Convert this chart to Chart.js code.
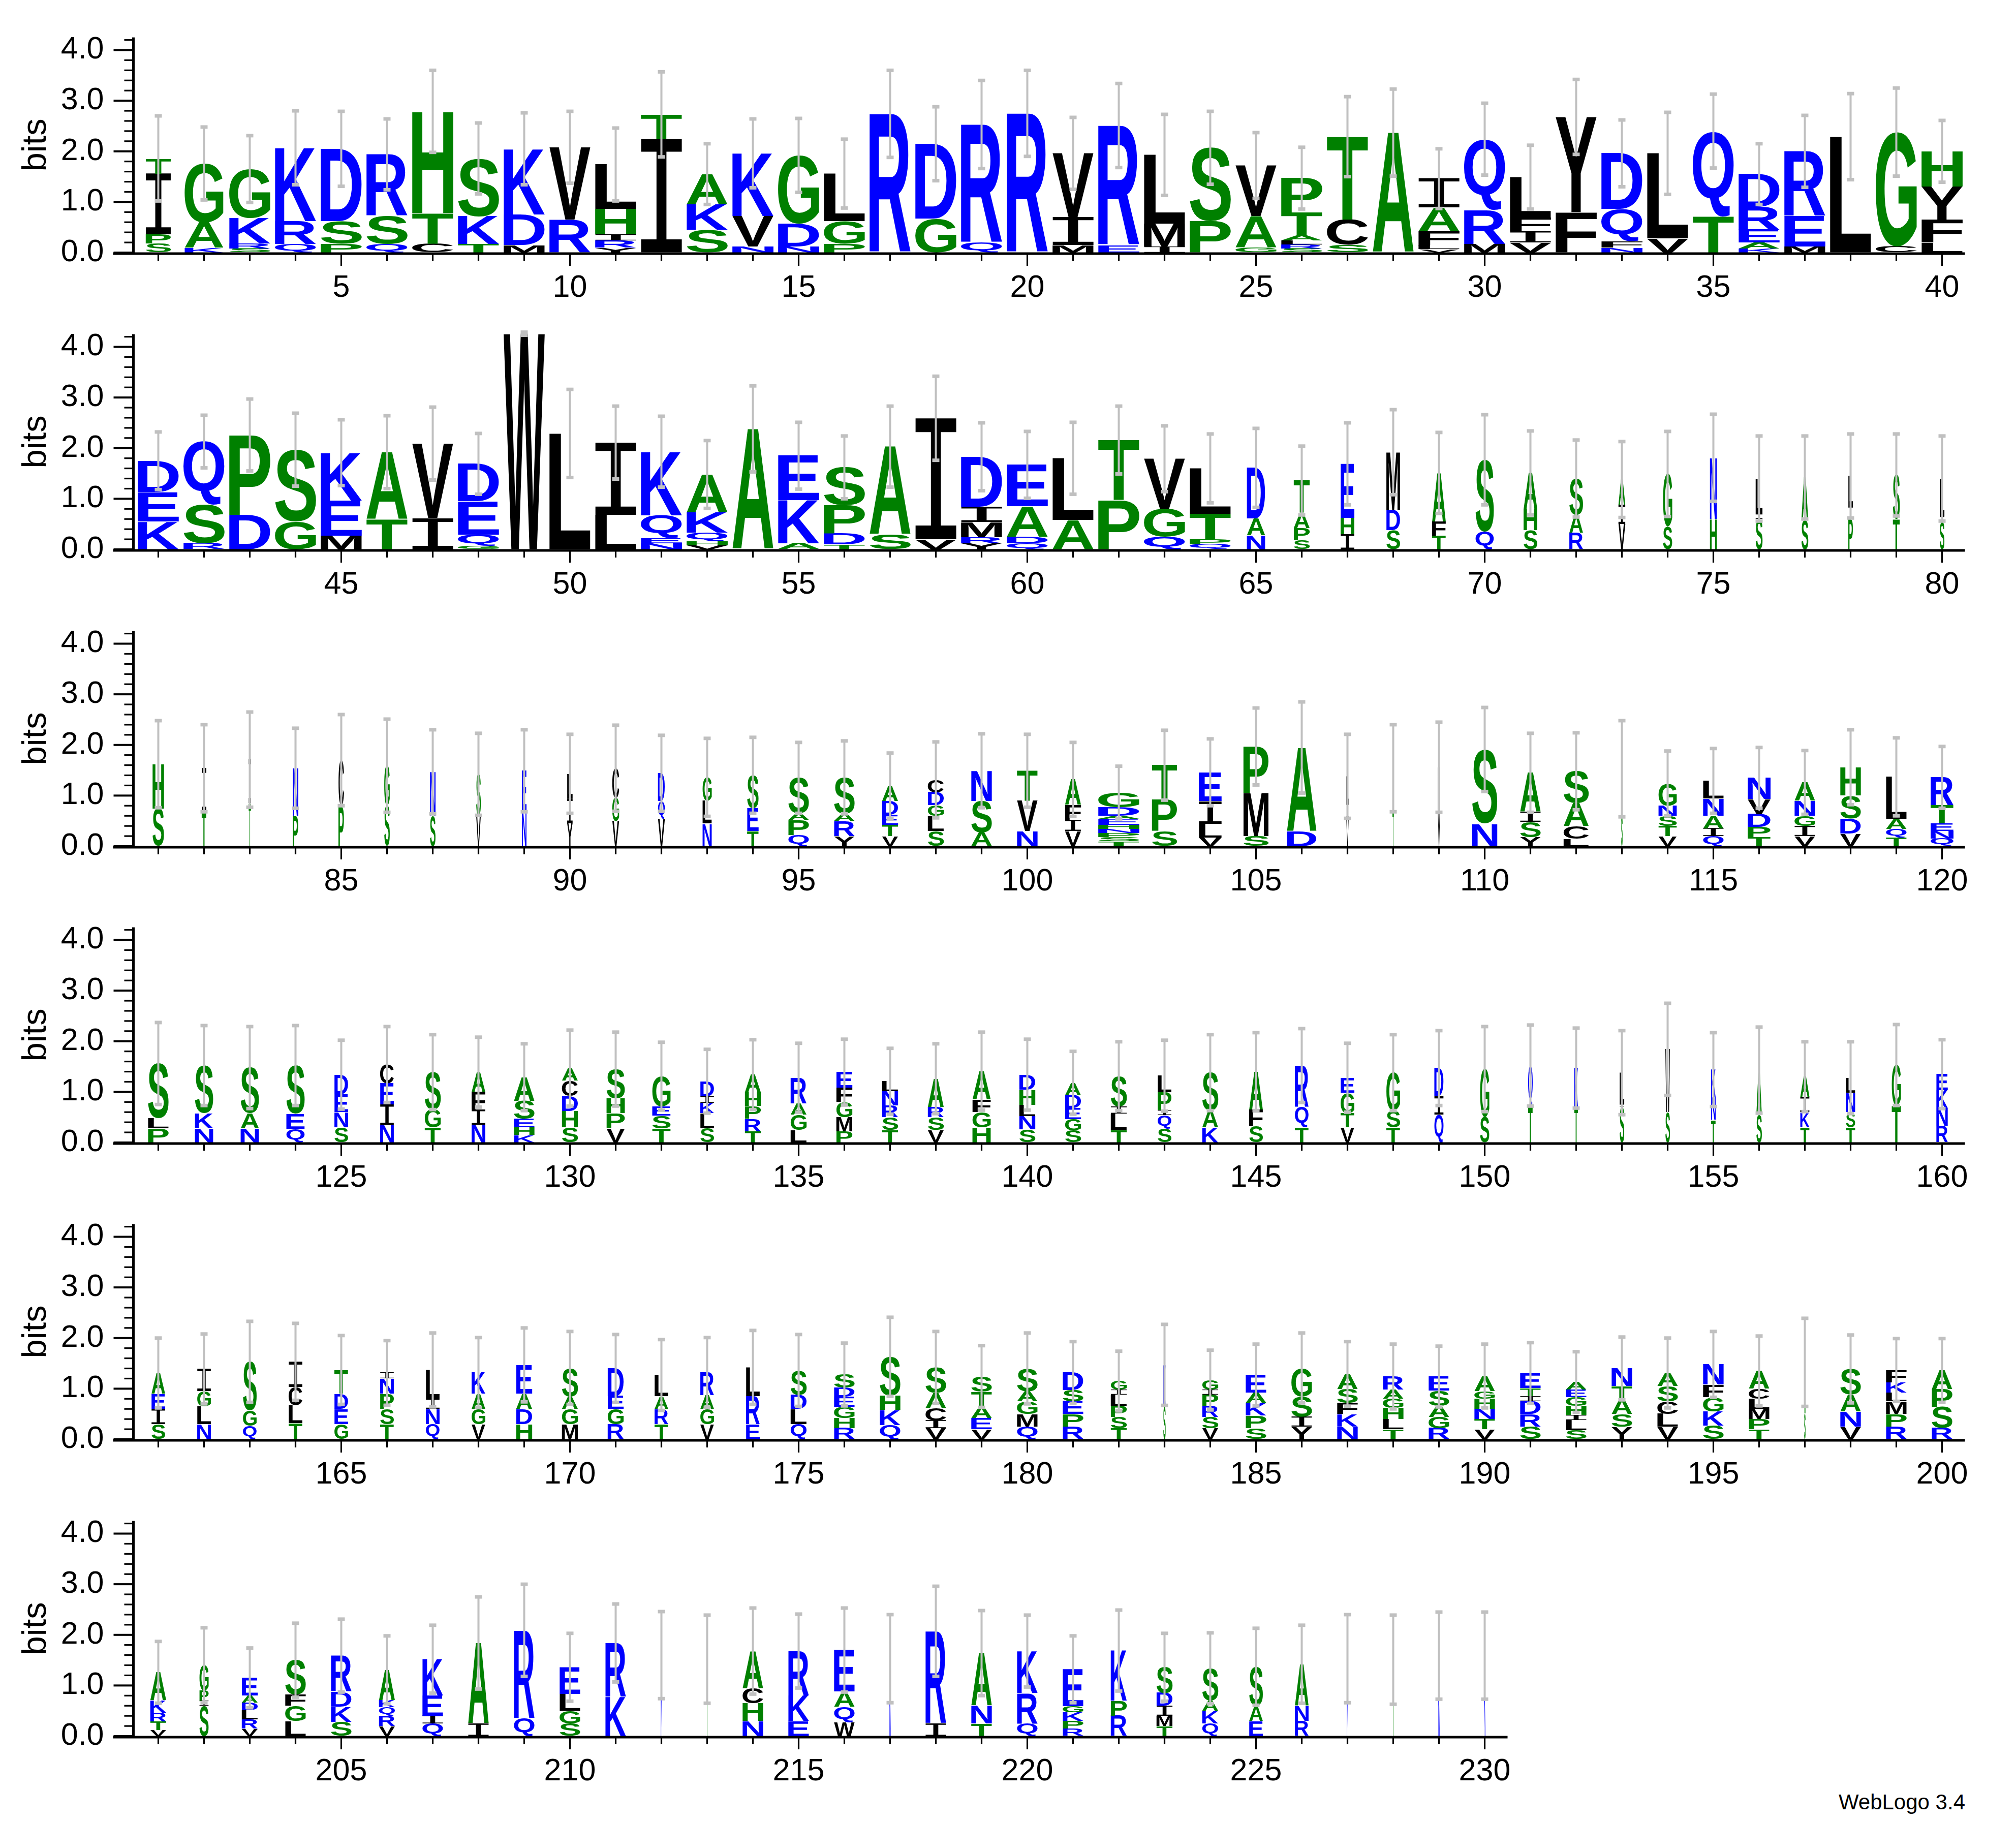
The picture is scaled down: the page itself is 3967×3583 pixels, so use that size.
<!DOCTYPE html>
<html><head><meta charset="utf-8">
<script src="https://cdn.jsdelivr.net/npm/chart.js@4"></script>
<style>
html,body{margin:0;padding:0;background:#fff;width:3967px;height:3583px;overflow:hidden;position:relative}
canvas{position:absolute;left:0}
#wl{position:absolute;right:100px;top:3522px;font:42px "Liberation Sans",Arial,sans-serif;color:#000}
</style></head><body>
<div id="wl">WebLogo 3.4</div>
<script>
// Letter stacks per position, bottom -> top, letter followed by height in bits
const stacks = [
"S.18 P.18 I1.2 T.3","K.1 A.5 G1.16","S.08 R.1 K.5 G.97","Q.17 R.45 K1.45","P.17 S.45 D1.43","Q.17 S.55 R1.22","C.18 T.6 H2.01","T.17 K.55 S1.14","M.15 D.6 K1.3","R.65 V1.43",
"Y.1 R.14 I.12 H.5 L.88","I2.25 T.48","S.45 K.5 A.6","N.12 V.6 K1.24","N.12 D.45 G1.35","P.17 G.45 L.94","R2.74","G.67 D1.48","Q.2 R2.33","R2.75",
"M.15 I.55 V1.26","E.15 R2.36","I.12 M.45 L1.36","P.62 S1.45","G.1 A.62 V1.0","S.08 R.08 L.08 A.1 T.45 P.68","S.15 C.5 T1.64","A2.37","V.07 L.07 F.28 A.47 I.57","M.17 R.67 Q1.4",
"V.2 I.22 F.27 L.8","F.8 Y1.88","N.1 F.12 Q.64 D1.1","V.28 L1.68","T.72 Q1.68","K.08 A.12 E.25 R.45 D.65","M.12 E.6 R1.28","L2.29","C.12 G2.26","L.2 F.45 Y.65 H.7",
"K.55 E.58 D.62","R.12 S.76 Q1.25","D.68 P1.58","G.55 S1.42","M.27 E.69 K.95","T.6 A1.32","I.62 V1.47","G.07 Q.22 E.66 D.74","W4.26","L2.29",
"L.68 I1.43","N.12 E.1 Q.45 K1.26","V.08 H.08 Q.17 K.4 A.75","A2.38","A.12 K.85 E.88","T.1 D.22 P.55 S.75","S.3 A1.73","V.2 I2.39","Y.12 R.12 M.3 I.3 D.99","Q.12 D.13 A.6 E.82",
"A.58 L1.22","P.97 T1.19","Q.25 G.55 V.99","Q.1 P.1 T.5 L.9","N.28 A.33 D1.0","S.18 P.24 A.3 T.64","I.3 H.32 E1.07","S.38 D.4 M1.14","T.27 F.28 A.96","Q.35 S1.42",
"S.38 H.42 A.71","R.33 A.35 S.72","V.5 I.38 A.5","S.45 G1.04","H.6 N1.21","S.6 I.1 L.7","S.57 A.85","P.6 I.25 L.6","T.6 S.87","S.55 I.1 L.75",
"S.74 H.88","T.68 I.86","T.85 I.86","P.6 N.94","P.8 C.9","S.8 G.79","S.6 N.87","V.6 S.82","N.7 E.79","Y.45 I.5 L.48",
"V.5 G.46 C.58","V.55 Q.34 D.55","N.45 L.45 G.46","T.3 E.45 S.65","Q.22 P.3 A.13 S.7","Y.2 R.3 A.14 S.72","V.2 T.22 E.2 D.27 A.3","S.3 L.3 G.21 D.25 C.25","A.27 S.62 N.6","N.3 V.6 T.59",
"V.3 I.22 F.3 A.5","T.1 S.08 P.08 N.08 H.08 E.12 A.06 D.17 G.29","S.3 P.62 T.68","V.17 L.27 I.45 E.57","S.2 M.85 P.92","D.3 A1.65","V.55 I.3 L.53","T.7 I.84","V.72 M.84","N.45 S1.46",
"Y.18 S.3 I.2 A.77","L.15 C.25 A.45 S.63","S.6 A.93","V.2 T.2 S.2 N.2 G.44","Q.2 I.15 A.25 N.34 L.35","T.18 P.2 D.25 V.3 N.42","V.2 I.2 G.2 N.3 A.36","V.25 D.3 S.45 H.56","T.17 Q.17 A.2 L.83","Q.15 N.15 E.15 T.36 R.55",
"P.28 L.2 S1.08","N.28 K.3 S.94","N.28 A.3 S.9","Q.27 E.3 S.95","S.3 N.3 E.35 D.39","N.35 I.4 E.42 C.37","T.3 G.35 S.74","N.35 I.3 F.35 A.39","K.15 H.15 E.17 S.35 A.47","S.3 H.32 D.3 C.3 A.25",
"V.28 P.3 H.3 S.57","T.28 S.25 E.18 G.6","S.28 L.3 K.2 I.13 D.3","T.22 R.25 P.25 H.27 A.35","L.25 G.3 A.22 R.51","P.22 M.28 G.3 F.28 E.31","T.25 S.25 R.23 N.28 L.2","V.25 S.25 R.2 A.56","H.3 G.3 F.25 A.56","S.26 N.26 L.22 H.3 D.3",
"S.24 G.22 E.22 D.25 A.25","T.25 L.32 I.14 S.6","S.27 Q.27 I.1 P.35 L.33","K.3 A.33 S.75","S.32 F.33 A.75","T.3 Q.4 R.82","V.3 T.28 G.4 E.3","T.3 S.33 G.75","Q.55 I.37 D.55","S.5 G.95",
"T.7 Q.82","T.7 K.77","S.7 I.05 L.63","S.6 W1.24","T.45 N.45 K.54","S.55 A.88","T.3 K.3 I.3 A.4","T.3 S.3 N.38 L.3","T.73 G.8","R.33 N.35 K.35 E.32",
"S.3 I.3 E.3 A.41","N.3 L.35 G.3 I.44","Q.27 G.3 S.96","T.32 L.35 C.36 I.5","G.3 E.3 D.3 T.47","T.3 S.3 P.3 N.3 I.11","Q.3 N.3 I.2 L.57","V.3 G.3 A.3 K.42","H.3 D.3 A.3 E.57","M.3 G.3 A.25 S.56",
"R.3 G.3 E.25 D.55","T.3 R.3 A.25 L.42","V.3 G.3 A.27 R.45","E.3 R.55 L.57","Q.3 L.3 D.28 S.48","R.22 H.2 G.22 E.2 D.18 S.26","Q.28 K.3 H.28 S.77","V.22 I.15 C.25 A.3 S.5","V.2 E.22 A.22 T.3 S.3","Q.25 M.25 G.25 A.2 S.45",
"R.25 P.25 E.25 S.22 D.35","T.22 S.22 P.22 L.22 I.1 G.17","S.65 K.82","V.22 S.22 R.22 P.22 I.1 G.19","S.22 P.25 K.25 A.2 E.35","Y.25 I.2 S.4 G.56","N.25 K.25 F.22 S.27 A.3","T.2 L.2 H.22 G.18 A.18 R.26","R.22 G.22 A.22 S.3 E.28","V.2 T.2 N.2 H.2 G.15 A.3",
"S.25 R.25 D.25 I.1 T.16 E.3","S.18 L.2 I.1 H.18 G.17 E.15 A.15","Y.25 S.25 A.3 T.25 N.35","V.25 L.25 C.25 S.3 A.26","S.27 K.28 G.28 F.25 N.4","T.2 P.2 M.2 L.2 C.2 A.35","S.5 A1.02","V.25 N.3 A.34 S.5","R.25 P.25 M.25 L.17 K.2 F.25","R.22 S.42 P.35 A.37",
"V.12 T.17 R.17 K.25 A.55","S.6 I.1 P.2 G.5","V.15 R.18 L.18 D.15 A.14 E.35","L.3 G.3 F.22 S.68","S.28 K.3 D.3 R.71","V.2 R.2 Q.17 K.14 A.6","Q.25 I.15 E.4 K.72","I.25 A1.59","Q.35 R1.74","S.25 G.25 L.33 E.53",
"K.78 R1.06","K1.6","T1.52","N.3 H.35 C.3 A.73","E.3 K.5 R.88","W.28 Q.3 A.3 E.82","K1.53","I.25 R1.82","T.25 N.35 A1.04","Q.25 R.6 K.83",
"R.15 P.15 K.17 G.12 E.73","R.4 P.3 K.99","T.2 M.2 I.2 D.25 S.51","Q.25 K.25 A.2 S.64","E.3 A.3 S.77","R.3 N.3 A.82","K1.53","T1.51","K1.59","K1.59"
];
// Upper end of the error bar per position (bits)
const errHi = [
2.70,2.48,2.31,2.80,2.79,2.64,3.60,2.56,2.76,2.79, 2.46,3.57,2.15,2.64,2.65,2.24,3.60,2.88,3.40,3.60,
2.67,3.34,2.73,2.79,2.37,2.08,3.08,3.23,2.05,2.95, 2.12,3.42,2.62,2.77,3.13,2.15,2.71,3.14,3.25,2.61,
2.32,2.65,2.97,2.69,2.56,2.64,2.81,2.29,4.29,3.16, 2.83,2.63,2.15,3.23,2.51,2.24,2.83,3.42,2.50,2.33,
2.51,2.83,2.44,2.28,2.39,2.04,2.50,2.76,2.31,2.66, 2.34,2.16,2.13,2.33,2.67,2.24,2.24,2.28,2.28,2.24,
2.48,2.40,2.65,2.33,2.60,2.51,2.30,2.23,2.30,2.21, 2.39,2.19,2.13,2.15,2.05,2.08,1.84,2.06,2.22,2.21,
2.05,1.58,2.29,2.12,2.73,2.85,2.21,2.40,2.45,2.74, 2.23,2.24,2.48,1.88,1.93,1.95,1.89,2.30,2.14,1.97,
2.37,2.31,2.29,2.31,2.02,2.29,2.13,2.08,1.95,2.22, 2.18,1.98,1.84,2.03,1.96,2.04,1.86,1.95,2.18,2.04,
1.80,1.99,2.02,2.13,2.17,2.25,1.96,2.13,2.21,2.29, 2.32,2.26,2.21,2.75,2.17,2.28,1.99,1.99,2.33,2.03,
2.00,2.08,2.33,2.29,2.05,1.95,2.10,2.01,2.20,2.13, 2.07,1.97,2.01,2.15,2.07,1.90,2.41,2.13,1.85,2.10,
1.93,1.74,2.27,1.76,1.88,2.10,1.93,1.88,1.84,1.88, 1.91,1.73,2.02,2.00,2.13,2.04,2.39,2.06,1.99,1.99,
1.87,2.14,1.74,2.23,2.31,1.98,2.19,2.75,3.00,2.03, 2.61,2.46,2.39,2.53,2.41,2.53,2.40,2.96,2.48,2.39,
1.98,2.49,2.03,2.04,2.13,2.19,2.40,2.39,2.45,2.45
];
// Column width (fraction of position spacing) as drawn
const widths = [
.55,.85,.9,.9,.9,.9,.9,.9,.9,.9, .9,.9,.9,.9,.9,.9,.9,.9,.9,.9,
.9,.9,.9,.9,.9,.9,.9,.9,.9,.9, .9,.9,.9,.9,.9,.9,.9,.9,.9,.9,
.9,.9,.9,.9,.9,.9,.9,.9,.9,.9, .9,.9,.9,.9,.9,.9,.9,.9,.9,.9,
.9,.9,.9,.9,.4,.35,.3,.3,.3,.4, .3,.3,.15,.2,.15,.15,.15,.1,.15,.1,
.25,.1,.05,.12,.12,.12,.12,.1,.1,.12, .15,.15,.2,.25,.45,.45,.35,.35,.45,.45,
.35,.9,.55,.5,.55,.65,.05,.03,.05,.55, .45,.55,.03,.4,.45,.5,.45,.45,.45,.5,
.45,.4,.4,.4,.3,.3,.35,.3,.45,.35, .4,.4,.3,.35,.35,.35,.35,.35,.4,.35,
.35,.35,.3,.35,.3,.3,.3,.3,.2,.2, .1,.08,.1,.1,.1,.12,.2,.2,.2,.25,
.3,.3,.3,.3,.3,.3,.3,.3,.35,.35, .35,.3,.3,.3,.35,.45,.45,.45,.45,.45,
.45,.35,.05,.35,.45,.45,.45,.45,.45,.45, .45,.45,.45,.45,.45,.45,.03,.45,.45,.45,
.35,.2,.35,.45,.45,.35,.45,.45,.45,.45, .45,.03,.03,.45,.45,.45,.03,.45,.45,.45,
.45,.35,.35,.35,.3,.3,.03,.03,.03,.03
];
const rows = [[1,40],[41,80],[81,120],[121,160],[161,200],[201,230]];
const xTickLabels = [5,10,15,20,25,30,35,40,45,50,55,60,65,70,75,80,85,90,95,100,105,110,115,120,125,130,135,140,145,150,155,160,165,170,175,180,185,190,195,200,205,210,215,220,225,230];
const yTickLabels = [0,1,2,3,4];

const GREEN='#008000', BLUE='#0000ff', BLACK='#000000';
const colorOf = l => ('GSTAPH'.includes(l)?GREEN:('KRDENQ'.includes(l)?BLUE:BLACK));
const parsed = stacks.map(s=>s.split(' ').map(t=>({l:t[0],h:parseFloat(t.slice(1))})));

const LEFT=266.5, STEP=90, ROWGAP=583.8, CH=583, TOPPAD=20;
const FONT='"Liberation Sans", Arial, sans-serif';
const fontFor = l => l==='I' ? '200px "DejaVu Sans Mono", monospace' : 'bold 200px '+FONT;

const glyphCache={};
function glyph(ctx,l){
  if(glyphCache[l]) return glyphCache[l];
  ctx.save(); ctx.font=fontFor(l);
  const m=ctx.measureText(l); ctx.restore();
  return glyphCache[l]={l:m.actualBoundingBoxLeft,r:m.actualBoundingBoxRight,a:m.actualBoundingBoxAscent,d:m.actualBoundingBoxDescent};
}

const logoPlugin={
  id:'logo',
  afterDatasetsDraw(chart){
    const ctx=chart.ctx, xs=chart.scales.x, ys=chart.scales.y;
    const unit=Math.abs(xs.getPixelForValue(2)-xs.getPixelForValue(1));
    chart.data.datasets.forEach((ds,di)=>{
      const meta=chart.getDatasetMeta(di);
      meta.data.forEach((el,i)=>{
        const L=ds.letters[i]; if(!L) return;
        const p=el.getProps(['x','y','base'],true);
        const top=Math.min(p.y,p.base), bot=Math.max(p.y,p.base);
        const h=bot-top; if(h<=0.5) return;
        const w=unit*ds.widthsRow[i];
        const g=glyph(ctx,L);
        const gw=g.l+g.r, gh=g.a+g.d;
        ctx.save();
        ctx.translate(p.x-w/2, top);
        ctx.scale(w/gw, h/gh);
        ctx.font=fontFor(L);
        ctx.fillStyle=colorOf(L);
        ctx.textBaseline='alphabetic'; ctx.textAlign='left';
        ctx.fillText(L, g.l, g.a);
        ctx.restore();
      });
    });
    const pos=chart.$positions;
    ctx.save();
    ctx.strokeStyle='#c0c0c0'; ctx.fillStyle='#c0c0c0'; ctx.lineWidth=4;
    pos.forEach(pp=>{
      const tot=parsed[pp-1].reduce((a,b)=>a+b.h,0);
      const hi=errHi[pp-1], lo=tot-(hi-tot);
      const x=xs.getPixelForValue(pp), y1=ys.getPixelForValue(hi), y0=ys.getPixelForValue(lo);
      ctx.beginPath(); ctx.moveTo(x,y0); ctx.lineTo(x,y1); ctx.stroke();
      ctx.fillRect(x-7,y1-3.5,14,7); ctx.fillRect(x-7,y0-3.5,14,7);
    });
    ctx.restore();
  },
  afterDraw(chart){
    const ctx=chart.ctx, xs=chart.scales.x, ys=chart.scales.y, a=chart.chartArea;
    ctx.save(); ctx.fillStyle='#000';
    const ax=a.left-4;
    ctx.fillRect(ax-2.5,a.top,5,a.bottom-a.top+3);
    for(let k=0;k<=21;k++){
      const v=k*0.2, y=ys.getPixelForValue(v);
      if(y<a.top) continue;
      if(k%5===0) ctx.fillRect(ax-39,y-2,39,4); else ctx.fillRect(ax-18,y-1.6,18,3.2);
    }
    const by=a.bottom+2;
    ctx.fillRect(a.left-44,by-2.5,a.right-(a.left-44),5);
    chart.$positions.forEach(pp=>{
      const x=xs.getPixelForValue(pp);
      const len=pp%5===0?22:12;
      ctx.fillRect(x-1.6,by,3.2,len+2);
    });
    ctx.restore();
  }
};

rows.forEach((r,ri)=>{
  const [p0,p1]=r;
  const positions=[]; for(let p=p0;p<=p1;p++) positions.push(p);
  const nLayers=Math.max(...positions.map(p=>parsed[p-1].length));
  const datasets=[];
  for(let k=0;k<nLayers;k++){
    const data=[], letters=[], wr=[];
    positions.forEach(p=>{
      const st=parsed[p-1];
      if(k<st.length){
        let base=0; for(let j=0;j<k;j++) base+=st[j].h;
        data.push({x:p,y:[base,base+st[k].h]}); letters.push(st[k].l);
      } else { data.push({x:p,y:[0,0]}); letters.push(null); }
      wr.push(widths[p-1]);
    });
    datasets.push({data,letters,widthsRow:wr,backgroundColor:'rgba(0,0,0,0)',borderWidth:0,grouped:false,barThickness:2});
  }
  const c=document.createElement('canvas');
  c.width=3967; c.height=CH;
  c.style.top=(35+ROWGAP*ri)+'px';
  document.body.appendChild(c);
  const right=LEFT+(p1-p0+1)*STEP;
  const pad={top:TOPPAD,right:3967-right,left:0,bottom:0};
  const hiddenGrid=len=>({display:true,drawOnChartArea:false,drawTicks:true,tickLength:len,tickColor:'rgba(0,0,0,0)',color:'rgba(0,0,0,0)',offset:false});
  const ch=new Chart(c,{
    type:'bar',
    data:{datasets},
    options:{
      responsive:false,animation:false,devicePixelRatio:1,
      events:[],
      layout:{padding:pad},
      plugins:{legend:{display:false},tooltip:{enabled:false}},
      scales:{
        x:{type:'linear',offset:false,min:p0-0.5,max:p1+0.5,
          grid:hiddenGrid(32),border:{display:false},
          afterBuildTicks:s=>{s.ticks=xTickLabels.filter(v=>v>=p0&&v<=p1).map(v=>({value:v}));},
          afterFit:s=>{s.height=121;},
          ticks:{autoSkip:false,maxRotation:0,padding:2,color:'#000',font:{family:FONT,size:61},callback:v=>String(v)}},
        y:{type:'linear',min:0,max:4.25,
          grid:hiddenGrid(60),border:{display:false},
          afterBuildTicks:s=>{s.ticks=yTickLabels.map(v=>({value:v}));},
          afterFit:s=>{s.width=LEFT;},
          title:{display:true,text:'bits',color:'#000',font:{family:FONT,size:67},padding:{top:31,bottom:0}},
          ticks:{padding:2,color:'#000',font:{family:FONT,size:61},callback:v=>Number(v).toFixed(1)}}
      }
    },
    plugins:[{id:'pos',beforeInit(chart){chart.$positions=positions;}},logoPlugin]
  });
  for(let it=0;it<3;it++){
    const a=ch.chartArea;
    const dTop=TOPPAD-a.top, dR=right-a.right, dL=LEFT-a.left, dB=(CH-121)-a.bottom;
    if(Math.abs(dTop)<0.5&&Math.abs(dR)<0.5&&Math.abs(dB)<0.5&&Math.abs(dL)<0.5) break;
    pad.top+=dTop; pad.right-=dR; pad.bottom-=dB; pad.left+=dL;
    ch.options.layout.padding=pad; ch.update();
  }
});
</script>
</body></html>
